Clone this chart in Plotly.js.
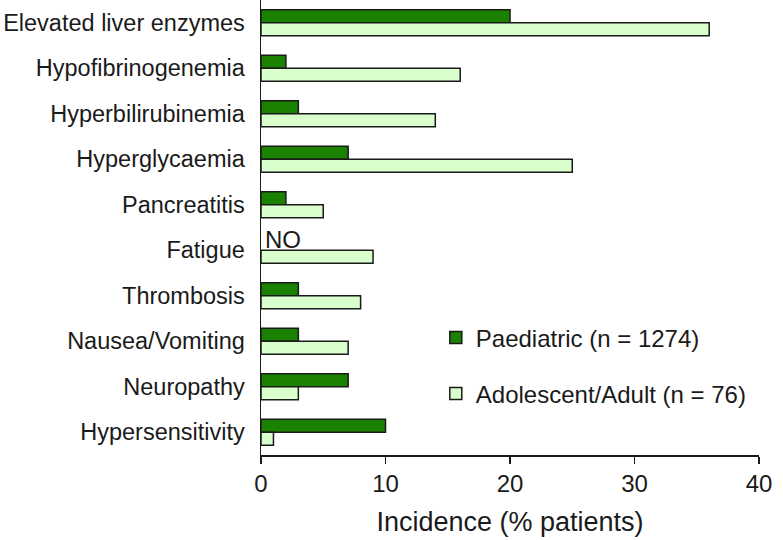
<!DOCTYPE html>
<html>
<head>
<meta charset="utf-8">
<script src="https://cdn.plot.ly/plotly-3.0.1.min.js"></script>
<style>
  body { margin: 0; background: #fff; }
  #chart { width: 783px; height: 540px; }
</style>
</head>
<body>
<div id="chart"></div>
<script>
// adverse events, top to bottom as in the figure
const categories = [
  "Elevated liver enzymes", "Hypofibrinogenemia", "Hyperbilirubinemia",
  "Hyperglycaemia", "Pancreatitis", "Fatigue", "Thrombosis",
  "Nausea/Vomiting", "Neuropathy", "Hypersensitivity"
];
// Fatigue not observed in paediatric group (shown as "NO")
const paediatric = [20, 2, 3, 7, 2, null, 3, 3, 7, 10];
const adult = [36, 16, 14, 25, 5, 9, 8, 7, 3, 1];
const label1 = "Paediatric (n = 1274)";
const label2 = "Adolescent/Adult (n = 76)";
const xTicks = [0, 10, 20, 30, 40];

const font = "Liberation Sans, Arial, sans-serif";

const trace1 = {
  y: categories,
  x: paediatric,
  name: label1,
  type: 'bar',
  orientation: 'h',
  legendgroup: 'a',
  marker: { color: '#1a8200', line: { color: '#1a1a1a', width: 1.5 } }
};
const trace2 = {
  y: categories,
  x: adult,
  name: label2,
  type: 'bar',
  orientation: 'h',
  legendgroup: 'b',
  marker: { color: '#d9ffcc', line: { color: '#1a1a1a', width: 1.5 } }
};

const layout = {
  barmode: 'group',
  bargap: 0.43,
  bargroupgap: 0,
  width: 783,
  height: 540,
  margin: { l: 261, r: 24, t: 0, b: 85, pad: 0 },
  paper_bgcolor: '#fff',
  plot_bgcolor: '#fff',
  font: { family: font, size: 24, color: '#1a1a1a' },
  showlegend: true,
  legend: {
    x: 0.351, y: 0.196, xanchor: 'left', yanchor: 'middle',
    traceorder: 'grouped', tracegroupgap: 22,
    bgcolor: 'rgba(0,0,0,0)',
    font: { family: font, size: 24, color: '#1a1a1a' }
  },
  xaxis: {
    range: [0, 40],
    tickvals: xTicks,
    ticks: 'outside', ticklen: 7, tickwidth: 1.5, tickcolor: '#1a1a1a',
    showline: true, linecolor: '#1a1a1a', linewidth: 1.5,
    showgrid: false, zeroline: false,
    tickfont: { size: 24 },
    title: { text: 'Incidence (% patients)', font: { size: 27 }, standoff: 16 }
  },
  yaxis: {
    autorange: 'reversed',
    showline: true, linecolor: '#1a1a1a', linewidth: 1.5,
    ticks: '', showgrid: false, zeroline: false,
    ticklabelstandoff: 10,
    tickfont: { size: 23.5 }
  },
  annotations: [{
    x: 0, y: 'Fatigue', xref: 'x', yref: 'y',
    text: 'NO', showarrow: false,
    xanchor: 'left', yanchor: 'middle', xshift: 2, yshift: 11,
    font: { family: font, size: 24, color: '#1a1a1a' }
  }]
};

Plotly.newPlot('chart', [trace1, trace2], layout, { displayModeBar: false, staticPlot: true });
</script>
</body>
</html>
